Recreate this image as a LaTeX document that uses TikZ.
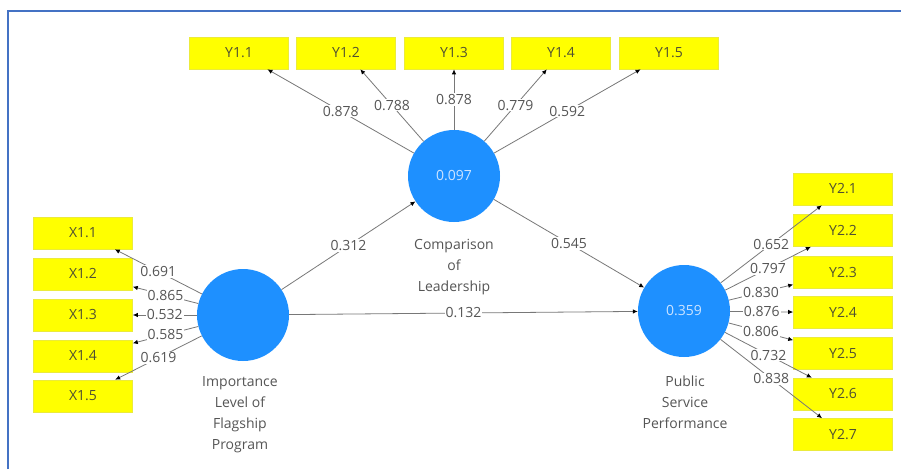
\documentclass[tikz,border=0pt]{standalone}
\usepackage{fontspec}
\setmainfont{Open Sans}
\usetikzlibrary{arrows.meta}
\definecolor{frameblue}{RGB}{68,114,196}
\definecolor{lvblue}{RGB}{30,144,255}
\definecolor{lvtext}{RGB}{205,228,255}
\definecolor{indyellow}{RGB}{255,255,0}
\definecolor{indborder}{RGB}{235,235,60}
\definecolor{indtext}{RGB}{80,80,50}
\definecolor{lbltext}{RGB}{85,85,85}
\definecolor{linegray}{RGB}{120,120,120}
\tikzset{
  indbox/.style={fill=indyellow, draw=indborder, line width=0.6pt, minimum width=99pt, minimum height=32pt, inner sep=0pt, text=indtext, font=\fontsize{14}{16}\selectfont},
  latent/.style={circle, fill=lvblue, minimum size=92pt, inner sep=0pt, text=lvtext, font=\fontsize{14}{16}\selectfont},
  lvname/.style={align=center, text=lbltext, font=\fontsize{14}{21}\selectfont},
  conn/.style={draw=linegray, line width=0.8pt, -{Latex[length=5pt,width=4.5pt,black]}},
  wlabel/.style={midway, fill=white, inner sep=1pt, text=lbltext, font=\fontsize{14}{16}\selectfont}
}
\begin{document}
\begin{tikzpicture}[x=1pt,y=-1pt]
\useasboundingbox (0,0) rectangle (901,469);
\fill[white] (0,0) rectangle (901,469);
% frame
\draw[frameblue, line width=2pt] (8,469) -- (8,11) -- (901,11);

% latent variables
\node[latent] (cl) at (454,176) {0.097};
\node[latent] (il) at (243,315) {};
\node[latent] (ps) at (684,311) {0.359};

\node[lvname] (cltxt) at (454,267) {Comparison\\of\\Leadership};
\node[lvname] (iltxt) at (240,415) {Importance\\Level of\\Flagship\\Program};
\node[lvname] (pstxt) at (685,402) {Public\\Service\\Performance};

% Y1 indicators
\node[indbox] (y11) at (239,53) {Y1.1};
\node[indbox] (y12) at (346,53) {Y1.2};
\node[indbox] (y13) at (454,53) {Y1.3};
\node[indbox] (y14) at (561,53) {Y1.4};
\node[indbox] (y15) at (669,53) {Y1.5};

% X indicators
\node[indbox] (x11) at (83,233) {X1.1};
\node[indbox] (x12) at (83,274) {X1.2};
\node[indbox] (x13) at (83,315) {X1.3};
\node[indbox] (x14) at (83,356) {X1.4};
\node[indbox] (x15) at (83,396) {X1.5};

% Y2 indicators
\node[indbox] (y21) at (843,189) {Y2.1};
\node[indbox] (y22) at (843,230.5) {Y2.2};
\node[indbox] (y23) at (843,272.5) {Y2.3};
\node[indbox] (y24) at (843,312.5) {Y2.4};
\node[indbox] (y25) at (843,353.5) {Y2.5};
\node[indbox] (y26) at (843,394) {Y2.6};
\node[indbox] (y27) at (843,434.5) {Y2.7};

% outer loadings: Comparison of Leadership
\draw[conn] (cl) -- node[wlabel] {0.878} (y11);
\draw[conn] (cl) -- node[wlabel] {0.788} (y12);
\draw[conn] (cl) -- node[wlabel] {0.878} (y13);
\draw[conn] (cl) -- node[wlabel] {0.779} (y14);
\draw[conn] (cl) -- node[wlabel] {0.592} (y15);

% outer loadings: Importance
\draw[conn] (il) -- node[wlabel] {0.691} (x11);
\draw[conn] (il) -- node[wlabel] {0.865} (x12);
\draw[conn] (il) -- node[wlabel] {0.532} (x13);
\draw[conn] (il) -- node[wlabel] {0.585} (x14);
\draw[conn] (il) -- node[wlabel] {0.619} (x15);

% outer loadings: Public Service Performance
\draw[conn] (ps) -- node[wlabel] {0.652} (y21);
\draw[conn] (ps) -- node[wlabel] {0.797} (y22);
\draw[conn] (ps) -- node[wlabel] {0.830} (y23);
\draw[conn] (ps) -- node[wlabel] {0.876} (y24);
\draw[conn] (ps) -- node[wlabel] {0.806} (y25);
\draw[conn] (ps) -- node[wlabel] {0.732} (y26);
\draw[conn] (ps) -- node[wlabel] {0.838} (y27);

% structural paths
\draw[conn] (il) -- node[wlabel] {0.312} (cl);
\draw[conn] (cl) -- node[wlabel] {0.545} (ps);
\draw[conn] (il) -- node[wlabel] {0.132} (ps);
\end{tikzpicture}
\end{document}
